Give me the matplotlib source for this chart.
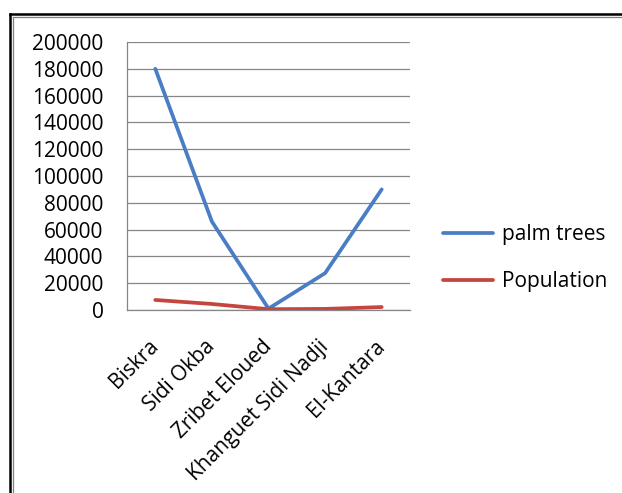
import matplotlib
matplotlib.use("Agg")
import matplotlib.pyplot as plt
from matplotlib.lines import Line2D

categories = ["Biskra", "Sidi Okba", "Zribet Eloued", "Khanguet Sidi Nadji", "El-Kantara"]
palm_trees = [180000, 66000, 1000, 27500, 90000]
population = [7500, 4500, 600, 800, 2200]
yticks = [0, 20000, 40000, 60000, 80000, 100000, 120000, 140000, 160000, 180000, 200000]

plt.rcParams['font.family'] = ['Open Sans', 'DejaVu Sans']

fig = plt.figure(figsize=(6.22, 4.93), dpi=100)
W, H = 622, 493
# outer frame (double line)
fig.add_artist(Line2D([10/W, 10/W], [0, 1 - 14/H], color='black', lw=1.8))
fig.add_artist(Line2D([10/W, 1.0], [1 - 14/H, 1 - 14/H], color='black', lw=1.8))
fig.add_artist(Line2D([13/W, 13/W], [0, 1 - 17/H], color='#808080', lw=0.9))
fig.add_artist(Line2D([13/W, 1.0], [1 - 17/H, 1 - 17/H], color='#808080', lw=0.9))

ax = fig.add_axes([127/W, 1 - 310/H, (410 - 127)/W, (310 - 42)/H])
x = list(range(len(categories)))
ax.plot(x, palm_trees, color='#4A7EC4', lw=2.7, solid_capstyle='round', label='palm trees')
ax.plot(x, population, color='#C4463F', lw=2.7, solid_capstyle='round', label='Population')

ax.set_xlim(-0.5, len(categories) - 0.5)
ax.set_ylim(0, 200000)
ax.set_yticks(yticks)
ax.set_yticklabels([str(v) for v in yticks], fontsize=15)
ax.set_xticks(x)
ax.set_xticklabels(categories, rotation=45, ha='right', va='center',
                   rotation_mode='anchor', fontsize=15)
ax.tick_params(axis='x', length=0, pad=24)
ax.tick_params(axis='y', length=0, pad=17)
ax.grid(axis='y', color='#868686', lw=0.9)
ax.set_axisbelow(True)
for s in ['top', 'right']:
    ax.spines[s].set_visible(False)
for s in ['left', 'bottom']:
    ax.spines[s].set_color('#868686')
    ax.spines[s].set_linewidth(0.9)

leg = fig.legend(loc='center left', bbox_to_anchor=(443/W, 1 - 258/H), frameon=False,
                 fontsize=15, handlelength=2.4, handletextpad=0.45, labelspacing=1.25,
                 borderpad=0, borderaxespad=0)

fig.savefig('out.png', dpi=100)
